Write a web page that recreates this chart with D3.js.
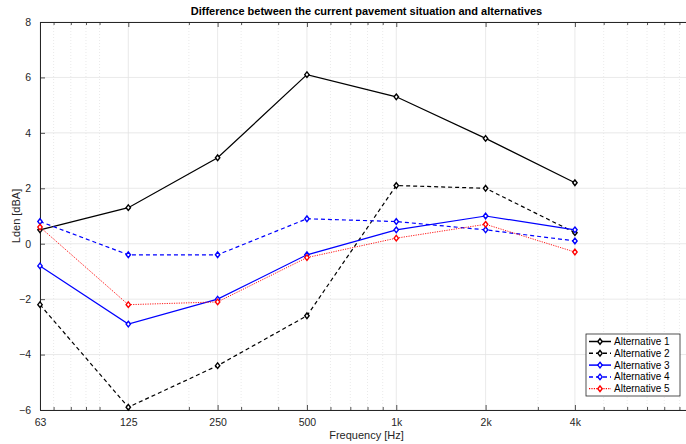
<!DOCTYPE html>
<html>
<head>
<meta charset="utf-8">
<script src="https://cdn.jsdelivr.net/npm/d3@7/dist/d3.min.js"></script>
<style>
  html, body { margin: 0; padding: 0; background: #fff; }
  svg { display: block; font-family: "Liberation Sans", Arial, Helvetica, sans-serif; }
</style>
</head>
<body>
<div id="chart"></div>
<script>
// ---- data ----
const frequencies = [63, 125, 250, 500, 1000, 2000, 4000];
const tickLabels = ["63", "125", "250", "500", "1k", "2k", "4k"];
const minorTicks = [70, 80, 90, 100, 200, 300, 400, 600, 700, 800, 900, 3000, 5000, 6000, 7000, 8000, 9000];
const yTicks = [-6, -4, -2, 0, 2, 4, 6, 8];
const seriesNames = ["Alternative 1", "Alternative 2", "Alternative 3", "Alternative 4", "Alternative 5"];
const alt1 = [0.5, 1.3, 3.1, 6.1, 5.3, 3.8, 2.2];
const alt2 = [-2.2, -5.9, -4.4, -2.6, 2.1, 2.0, 0.4];
const alt3 = [-0.8, -2.9, -2.0, -0.4, 0.5, 1.0, 0.5];
const alt4 = [0.8, -0.4, -0.4, 0.9, 0.8, 0.5, 0.1];
const alt5 = [0.6, -2.2, -2.1, -0.5, 0.2, 0.7, -0.3];
const seriesValues = [alt1, alt2, alt3, alt4, alt5];
const seriesColors = ["#000000", "#000000", "#0000ff", "#0000ff", "#ff0000"];
const seriesDash = [null, "4,3", null, "4,3", "1.2,1.2"];
const seriesWidth = [1.2, 1.2, 1.2, 1.2, 0.9];

// ---- layout ----
const W = 686, H = 444;
const m = { left: 40, top: 22, right: 693, bottom: 410 };
const axisColor = "#262626";
const diamond = "M0,-2.8L2.2,0L0,2.8L-2.2,0Z";

const svg = d3.select("#chart").append("svg").attr("width", W).attr("height", H);

const x = d3.scaleLog().domain([63, 10000]).range([m.left, m.right]);
const y = d3.scaleLinear().domain([-6, 8]).range([m.bottom, m.top]);

// grid
const grid = svg.append("g");
grid.selectAll("line.minor").data(minorTicks).join("line")
  .attr("x1", d => x(d)).attr("x2", d => x(d))
  .attr("y1", m.top).attr("y2", m.bottom)
  .attr("stroke", "#dcdcdc").attr("stroke-width", 0.6).attr("stroke-dasharray", "1,2");
grid.selectAll("line.majorx").data(frequencies).join("line")
  .attr("x1", d => x(d)).attr("x2", d => x(d))
  .attr("y1", m.top).attr("y2", m.bottom)
  .attr("stroke", "#e3e3e3").attr("stroke-width", 0.8);
grid.selectAll("line.majory").data(yTicks).join("line")
  .attr("x1", m.left).attr("x2", m.right)
  .attr("y1", d => y(d)).attr("y2", d => y(d))
  .attr("stroke", "#e3e3e3").attr("stroke-width", 0.8);

// axes
const xAxisB = d3.axisBottom(x).tickValues(frequencies).tickFormat((d, i) => tickLabels[i])
  .tickSizeInner(-5).tickSizeOuter(0).tickPadding(9);
const gxb = svg.append("g").attr("transform", `translate(0,${m.bottom})`).call(xAxisB);
const xMinorB = d3.axisBottom(x).tickValues(minorTicks).tickFormat("").tickSizeInner(-3).tickSizeOuter(0);
const gxbm = svg.append("g").attr("transform", `translate(0,${m.bottom})`).call(xMinorB);
const xAxisT = d3.axisTop(x).tickValues(frequencies).tickFormat("").tickSizeInner(-5).tickSizeOuter(0);
const gxt = svg.append("g").attr("transform", `translate(0,${m.top})`).call(xAxisT);
const xMinorT = d3.axisTop(x).tickValues(minorTicks).tickFormat("").tickSizeInner(-3).tickSizeOuter(0);
const gxtm = svg.append("g").attr("transform", `translate(0,${m.top})`).call(xMinorT);
const yAxisL = d3.axisLeft(y).tickValues(yTicks).tickFormat(d3.format("d"))
  .tickSizeInner(-5).tickSizeOuter(0).tickPadding(9);
const gyl = svg.append("g").attr("transform", `translate(${m.left},0)`).call(yAxisL);

[gxb, gxbm, gxt, gxtm, gyl].forEach(g => {
  g.select(".domain").attr("stroke", axisColor).attr("stroke-width", 1);
  g.selectAll(".tick line").attr("stroke", axisColor).attr("stroke-width", 0.8);
  g.selectAll(".tick text").attr("fill", axisColor).attr("font-size", 10.5)
    .attr("font-family", "Liberation Sans, Arial, sans-serif");
});
gyl.selectAll(".tick text").attr("dy", "0.32em");

// series
const line = d3.line().x((d, i) => x(frequencies[i])).y(d => y(d));
const plot = svg.append("g");
seriesValues.forEach((vals, s) => {
  plot.append("path").datum(vals)
    .attr("d", line)
    .attr("fill", "none")
    .attr("stroke", seriesColors[s])
    .attr("stroke-width", seriesWidth[s])
    .attr("stroke-dasharray", seriesDash[s]);
  plot.selectAll(null).data(vals).join("path")
    .attr("d", diamond)
    .attr("transform", (d, i) => `translate(${x(frequencies[i])},${y(d)})`)
    .attr("fill", "#ffffff")
    .attr("stroke", seriesColors[s])
    .attr("stroke-width", 1.4);
});

// title and labels
svg.append("text").attr("x", (m.left + m.right) / 2).attr("y", 15)
  .attr("text-anchor", "middle").attr("font-size", 11).attr("font-weight", "bold")
  .attr("fill", "#000").text("Difference between the current pavement situation and alternatives");
svg.append("text").attr("x", (m.left + m.right) / 2).attr("y", 439)
  .attr("text-anchor", "middle").attr("font-size", 11).attr("fill", axisColor)
  .text("Frequency [Hz]");
svg.append("text").attr("transform", `translate(20,${(m.top + m.bottom) / 2}) rotate(-90)`)
  .attr("text-anchor", "middle").attr("font-size", 11).attr("fill", axisColor)
  .text("Lden [dBA]");

// legend
const lg = svg.append("g").attr("transform", "translate(586,334)");
lg.append("rect").attr("x", 0).attr("y", 0).attr("width", 94).attr("height", 62)
  .attr("fill", "#fff").attr("stroke", axisColor).attr("stroke-width", 0.8);
seriesNames.forEach((name, s) => {
  const yy = 7.5 + s * 11.8;
  lg.append("line").attr("x1", 3).attr("x2", 25).attr("y1", yy).attr("y2", yy)
    .attr("stroke", seriesColors[s]).attr("stroke-width", seriesWidth[s] + 0.3)
    .attr("stroke-dasharray", seriesDash[s]);
  lg.append("path").attr("d", diamond)
    .attr("transform", `translate(14,${yy})`)
    .attr("fill", "#fff").attr("stroke", seriesColors[s]).attr("stroke-width", 1.4);
  lg.append("text").attr("x", 28).attr("y", yy).attr("dy", "0.35em")
    .attr("font-size", 10).attr("fill", "#000").text(name);
});
</script>
</body>
</html>
